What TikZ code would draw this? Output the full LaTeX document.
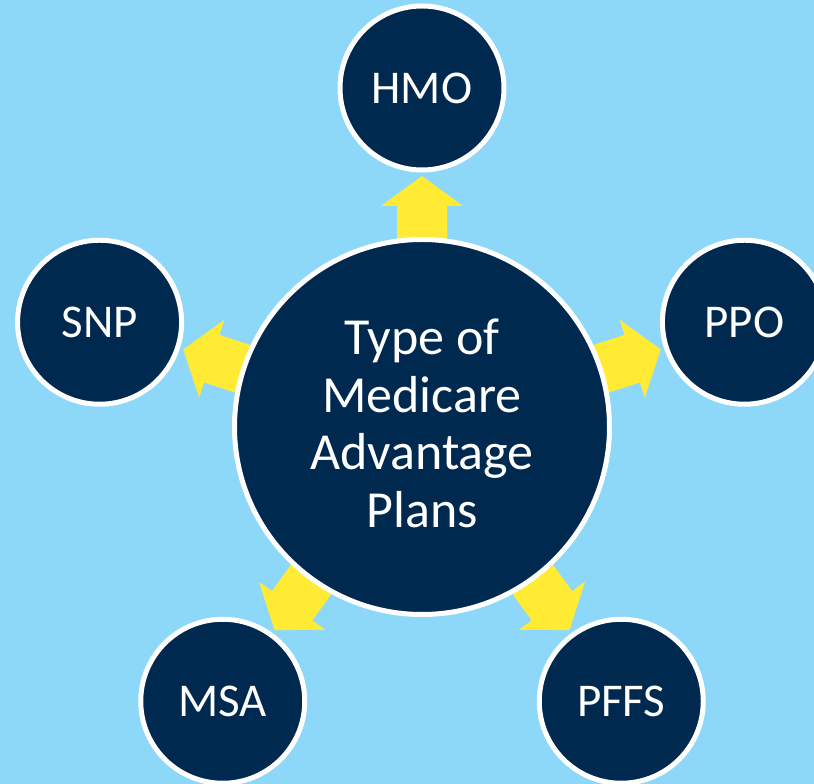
\documentclass[tikz,border=0pt]{standalone}
\usepackage{fontspec}
\setmainfont{Carlito}
\usetikzlibrary{calc}
\definecolor{bgblue}{HTML}{8DD8F8}
\definecolor{navy}{HTML}{00294F}
\definecolor{arrowyellow}{HTML}{FFEB33}
\tikzset{
  hub/.style={circle, fill=navy, draw=white, line width=5pt, minimum size=375pt, inner sep=0pt,
    text=white, align=center, font=\fontsize{52}{57.5}\selectfont},
  leaf/.style={circle, fill=navy, draw=white, line width=5pt, minimum size=164pt, inner sep=0pt,
    text=white, font=\fontsize{47}{52}\selectfont},
  blockarrow/.style={fill=arrowyellow, draw=none}
}
\begin{document}
\begin{tikzpicture}[x=1pt,y=1pt]
\useasboundingbox (0,0) rectangle (814,784);
\fill[bgblue] (0,0) rectangle (814,784);
\clip (0,0) rectangle (814,784);
\coordinate (c) at (422,357);
% arrows
\foreach \a in {90,18,162,234,306}{
  \begin{scope}[shift={(c)}, rotate=\a]
    \fill[blockarrow] (170,-25) -- (221,-25) -- (221,-41) -- (251,0) -- (221,41) -- (221,25) -- (170,25) -- cycle;
  \end{scope}
}
\node[hub] (hub) at (c) {Type of\\Medicare\\Advantage\\Plans\rule[-8pt]{0pt}{8pt}};
\node[leaf] (hmo) at ([shift={(90:339)}]c) {HMO};
\node[leaf] (ppo) at ([shift={(18:339)}]c) {PPO};
\node[leaf] (snp) at ([shift={(162:339)}]c) {SNP};
\node[leaf] (msa) at ([shift={(234:339)}]c) {MSA};
\node[leaf] (pffs) at ([shift={(306:339)}]c) {PFFS};
\end{tikzpicture}
\end{document}
